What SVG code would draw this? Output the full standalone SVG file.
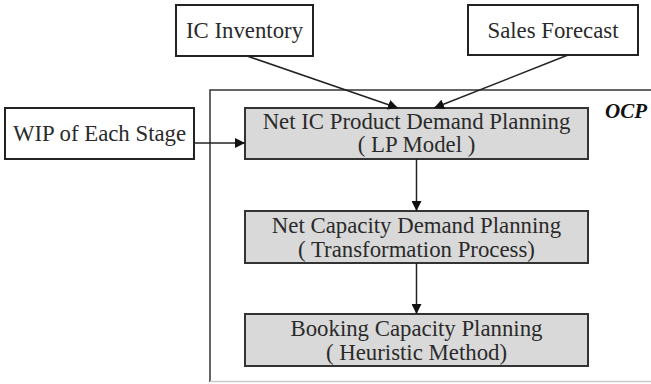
<svg xmlns="http://www.w3.org/2000/svg" width="651" height="384" viewBox="0 0 651 384">
  <defs>
    <marker id="arr" viewBox="0 0 10 10" refX="10" refY="5" markerWidth="10" markerHeight="10" markerUnits="userSpaceOnUse" orient="auto">
      <path d="M0,0 L10,5 L0,10 z" fill="#111"/>
    </marker>
  </defs>
  <style>
    .box { fill: #fff; stroke: #222; stroke-width: 2; }
    .proc { fill: #d9d9d9; stroke: #333; stroke-width: 2; }
    .frame { fill: none; stroke: #333; stroke-width: 1.5; }
    text { font-family: "Liberation Serif", "Times New Roman", serif; font-size: 22.8px; fill: #2a2a2a; text-anchor: middle; }
    .ocp { font-weight: bold; font-style: italic; font-size: 21px; fill: #111; text-anchor: start; }
    .conn line { stroke: #222; stroke-width: 1.5; marker-end: url(#arr); }
  </style>
  <rect width="651" height="384" fill="#fff"/>

  <!-- OCP frame: left and top edges, faint bottom edge -->
  <g id="ocp-frame">
    <path class="frame" d="M210,382 L210,90 L660,90"/>
    <line x1="210" y1="381.5" x2="651" y2="381.5" stroke="#ccc" stroke-width="1.5"/>
    <text class="ocp" x="605" y="118">OCP</text>
  </g>

  <g id="ic-inventory">
    <rect class="box" x="176" y="5" width="137" height="51"/>
    <text x="244.5" y="38">IC Inventory</text>
  </g>

  <g id="sales-forecast">
    <rect class="box" x="468" y="5" width="170" height="50"/>
    <text x="553" y="38">Sales Forecast</text>
  </g>

  <g id="wip">
    <rect class="box" x="5" y="108" width="189" height="51"/>
    <text x="99.5" y="141">WIP of Each Stage</text>
  </g>

  <g id="net-ic">
    <rect class="proc" x="245" y="108" width="343" height="51"/>
    <text x="416.5" y="129">Net IC Product Demand Planning</text>
    <text x="416.5" y="152">( LP Model )</text>
  </g>

  <g id="net-capacity">
    <rect class="proc" x="245" y="211" width="343" height="52"/>
    <text x="416.5" y="233">Net Capacity Demand Planning</text>
    <text x="416.5" y="257">( Transformation Process)</text>
  </g>

  <g id="booking">
    <rect class="proc" x="245" y="314" width="343" height="52"/>
    <text x="416.5" y="336">Booking Capacity Planning</text>
    <text x="416.5" y="360">( Heuristic Method)</text>
  </g>

  <g id="connectors" class="conn">
    <line x1="247" y1="56" x2="398" y2="108"/>
    <line x1="568" y1="55" x2="434" y2="108"/>
    <line x1="194" y1="143" x2="245" y2="143"/>
    <line x1="416.5" y1="159" x2="416.5" y2="211"/>
    <line x1="416.5" y1="263" x2="416.5" y2="314"/>
  </g>
</svg>
